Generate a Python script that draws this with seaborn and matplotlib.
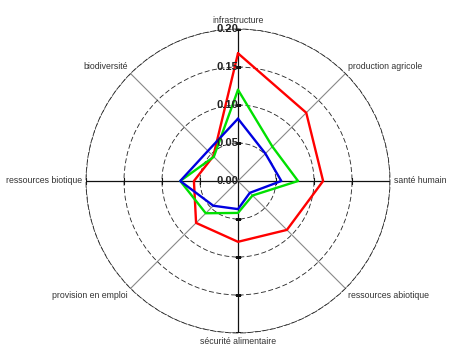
import numpy as np
import pandas as pd
import matplotlib
matplotlib.use("Agg")
import matplotlib.pyplot as plt
import seaborn as sns

# axes, clockwise from the top
categories = ["infrastructure", "production agricole", "santé humain",
              "ressources abiotique", "sécurité alimentaire",
              "provision en emploi", "ressources biotique", "biodiversité"]

red_values = [0.168, 0.127, 0.112, 0.091, 0.080, 0.078, 0.058, 0.046]
green_values = [0.120, 0.064, 0.079, 0.027, 0.042, 0.060, 0.076, 0.045]
blue_values = [0.082, 0.051, 0.057, 0.022, 0.037, 0.046, 0.076, 0.056]

r_ticks = [0.00, 0.05, 0.10, 0.15, 0.20]
r_tick_labels = ["0.00", "0.05", "0.10", "0.15", "0.20"]

series_colors = {"red": "#ff0000", "green": "#00e000", "blue": "#0000e0"}

sns.set_style("white")
plt.rcParams["font.family"] = ["Liberation Sans", "DejaVu Sans"]

n = len(categories)
angles = np.arange(n) * 2 * np.pi / n

# build a long table, closing each polygon
rows = []
for name, vals in [("red", red_values), ("green", green_values), ("blue", blue_values)]:
    th = list(angles) + [2 * np.pi]
    vv = list(vals) + [vals[0]]
    for i, (t, v) in enumerate(zip(th, vv)):
        rows.append({"series": name, "order": i, "theta": t, "r": v})
df = pd.DataFrame(rows)

fig = plt.figure(figsize=(4.71, 3.52), dpi=100)
ax = fig.add_axes([0.1826, 0.054, 0.6454, 0.8636], projection="polar")
ax.set_theta_zero_location("N")
ax.set_theta_direction(-1)

sns.lineplot(data=df, x="theta", y="r", hue="series", palette=series_colors,
             sort=False, estimator=None, units="series", linewidth=1.7,
             legend=False, ax=ax)

ax.set_ylim(0, 0.20)
ax.set_yticks(r_ticks)
ax.set_yticklabels([])
ax.set_xticks(angles)
ax.set_xticklabels([])
ax.set_xlabel("")
ax.set_ylabel("")

# dashed rings, spokes grey on diagonals and black on the main axes
ax.grid(True)
for gl in ax.yaxis.get_gridlines():
    gl.set_color("#222222")
    gl.set_linestyle((0, (6, 3)))
    gl.set_linewidth(0.6)
for i, gl in enumerate(ax.xaxis.get_gridlines()):
    gl.set_linestyle("-")
    if i % 2 == 0:
        gl.set_color("#111111")
        gl.set_linewidth(0.9)
    else:
        gl.set_color("#888888")
        gl.set_linewidth(0.8)
ax.spines["polar"].set_linestyle((0, (6, 3)))
ax.spines["polar"].set_linewidth(0.6)
ax.spines["polar"].set_color("#222222")

# small ticks on the main axes
for k, a in enumerate(angles[::2]):
    ax.plot([a] * len(r_ticks[1:]), r_ticks[1:], linestyle="none",
            marker="_" if k % 2 == 0 else "|", markersize=5,
            markeredgewidth=0.8, color="#111111", zorder=1)

# radial labels along the top axis
for v, lab in zip(r_ticks, r_tick_labels):
    ax.annotate(lab, xy=(0, v), xytext=(0, 0), textcoords="offset points",
                ha="right", va="center", fontsize=8, fontweight="bold",
                color="#222222", annotation_clip=False)

# category labels
align = [("center", "bottom"), ("left", "bottom"), ("left", "center"),
         ("left", "top"), ("center", "top"), ("right", "top"),
         ("right", "center"), ("right", "bottom")]
for a, lab, (ha, va) in zip(angles, categories, align):
    ax.text(a, 0.205, lab, ha=ha, va=va, fontsize=6.3, color="#333333",
            clip_on=False)

fig.savefig("out.png", dpi=100, facecolor="white")
